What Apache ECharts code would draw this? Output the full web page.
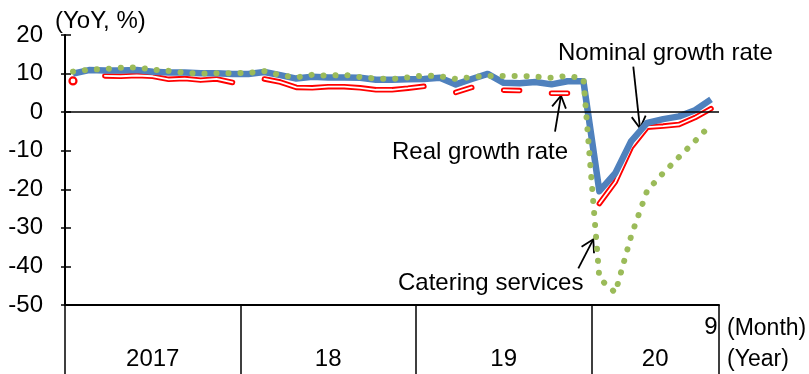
<!DOCTYPE html>
<html><head><meta charset="utf-8">
<script src="https://cdn.jsdelivr.net/npm/echarts@6/dist/echarts.min.js"></script>
<style>html,body{margin:0;padding:0;background:#fff}#c{width:809px;height:374px}</style>
</head><body><div id="c"></div>
<script>
// ---- data ----
const months = [
 '2017/1-2','2017/3','2017/4','2017/5','2017/6','2017/7','2017/8','2017/9','2017/10','2017/11','2017/12',
 '2018/1-2','2018/3','2018/4','2018/5','2018/6','2018/7','2018/8','2018/9','2018/10','2018/11','2018/12',
 '2019/1-2','2019/3','2019/4','2019/5','2019/6','2019/7','2019/8','2019/9','2019/10','2019/11','2019/12',
 '2020/1-2','2020/3','2020/4','2020/5','2020/6','2020/7','2020/8','2020/9'
];
const nominal = [10.0,10.9,10.8,10.8,10.9,10.5,10.3,10.3,10.1,10.1,9.9,
 9.9,10.4,9.6,8.7,9.2,9.0,9.0,8.9,8.4,8.4,8.5,
 8.6,8.9,7.2,8.6,9.9,7.6,7.5,7.8,7.2,8.0,8.0,
 -20.5,-15.8,-7.5,-2.8,-1.8,-1.1,0.5,3.3];
const real = [8.1,null,9.4,9.3,9.5,9.3,8.5,8.7,8.3,8.6,7.7,
 null,8.6,7.8,6.4,6.3,6.6,6.6,6.3,5.8,5.8,6.2,
 6.7,null,5.1,6.4,null,5.7,5.6,null,4.9,4.9,null,
 -23.7,-18.1,-9.1,-3.9,-3.6,-3.2,-1.4,0.9];
const catering = [10.5,11.0,11.2,11.5,11.6,11.0,10.7,10.2,10.0,10.1,10.1,
 10.2,10.6,9.6,9.0,9.7,9.4,9.7,9.1,8.7,8.6,9.0,
 9.5,9.3,8.6,9.1,9.4,9.4,9.4,9.2,8.9,9.4,8.7,
 -43.1,-46.8,-32.0,-20.3,-15.8,-11.6,-7.5,-3.2];
const yearLabels = ['2017','18','19','20'];
const yMin = -50, yMax = 20, yStep = 10;

// ---- derived ----
const FONT = 'Liberation Sans, Arial, sans-serif';
const years = months.map(m => m.split('/')[0]);
const yearStarts = [];
years.forEach((y, i) => { if (i === 0 || years[i - 1] !== y) yearStarts.push(i); });
const yearCenterMap = {};
yearStarts.forEach((s, k) => {
  const e = k + 1 < yearStarts.length ? yearStarts[k + 1] : months.length;
  yearCenterMap[Math.round((s + e) / 2 * 2)] = yearLabels[k];
});
const lastIdx = months.length - 1;
const lastMonthLabel = months[lastIdx].split('/')[1];
const realItems = real.map((v, i) => {
  const isolated = v !== null && (i === 0 || real[i - 1] === null) && (i === lastIdx || real[i + 1] === null);
  return isolated ? {value: v, symbol: 'circle', symbolSize: 7,
    itemStyle: {color: '#fff', borderColor: '#ff0000', borderWidth: 2.2}} : v;
});

const chart = echarts.init(document.getElementById('c'), null, {renderer: 'canvas'});

function txt(x, y, s, size) {
  return {type: 'text', x: x, y: y, silent: true,
    style: {text: s, fill: '#000', font: size + 'px ' + FONT, textVerticalAlign: 'middle', textAlign: 'left'}};
}
function arrow(x0, y0, x1, y1) {
  const dx = x1 - x0, dy = y1 - y0, L = Math.hypot(dx, dy), ux = dx / L, uy = dy / L;
  const hl = 12, hw = 7;
  const bx = x1 - ux * hl, by = y1 - uy * hl;
  return [
    {type: 'line', silent: true, shape: {x1: x0, y1: y0, x2: x1, y2: y1}, style: {stroke: '#000', lineWidth: 1.8}},
    {type: 'polyline', silent: true, shape: {points: [[bx - uy * hw, by + ux * hw], [x1, y1], [bx + uy * hw, by - ux * hw]]},
      style: {stroke: '#000', lineWidth: 1.8, fill: null}}
  ];
}

chart.setOption({
  animation: false,
  backgroundColor: '#fff',
  grid: {left: 65, right: 90, top: 35, bottom: 69, containLabel: false},
  xAxis: [{
    type: 'category', data: months, boundaryGap: true, position: 'bottom',
    axisLine: {onZero: false, lineStyle: {color: '#000', width: 2}},
    axisTick: {show: true, inside: false, length: 69, interval: (i) => yearStarts.indexOf(i) >= 0,
      lineStyle: {color: '#000', width: 1.5}},
    axisLabel: {interval: (i) => i === lastIdx, formatter: (v, i) => (i === lastIdx ? lastMonthLabel : ''),
      color: '#000', fontSize: 24, fontFamily: FONT, margin: 10},
    splitLine: {show: false}
  }, {
    type: 'value', min: 0, max: months.length, interval: 0.5, position: 'bottom',
    axisLine: {show: false}, axisTick: {show: false}, splitLine: {show: false},
    axisLabel: {formatter: (v) => yearCenterMap[Math.round(v * 2)] || '', color: '#000', fontSize: 24,
      fontFamily: FONT, margin: 42, hideOverlap: false, showMinLabel: false, showMaxLabel: false}
  }],
  yAxis: [{
    type: 'value', min: yMin, max: yMax, interval: yStep,
    axisLine: {show: true, lineStyle: {color: '#000', width: 2}},
    axisTick: {show: true, inside: false, length: 4, lineStyle: {color: '#000', width: 1.5}},
    axisLabel: {color: '#000', fontSize: 24, fontFamily: FONT, margin: 22},
    splitLine: {show: false}
  }, {
    type: 'value', min: yMin, max: yMax, interval: yStep, position: 'left',
    axisLine: {show: false}, axisLabel: {show: false}, splitLine: {show: false},
    axisTick: {show: true, inside: true, length: 6, lineStyle: {color: '#000', width: 1.5}}
  }],
  series: [{
    name: 'Real outer', type: 'line', data: realItems, symbol: 'none', showSymbol: true, showAllSymbol: true,
    connectNulls: false, silent: true, z: 2,
    lineStyle: {color: '#ff0000', width: 5.5, cap: 'round', join: 'round'}
  }, {
    name: 'Real inner', type: 'line', data: real, symbol: 'none', connectNulls: false, silent: true, z: 3,
    lineStyle: {color: '#ffffff', width: 1.8, cap: 'round', join: 'round'}
  }, {
    name: 'Nominal', type: 'line', data: nominal, symbol: 'none', silent: true, z: 4,
    lineStyle: {color: '#4F81BD', width: 6.5, join: 'round'},
    markLine: {silent: true, symbol: ['none', 'none'], label: {show: false},
      lineStyle: {color: '#000', width: 1.5, type: 'solid'}, data: [{yAxis: 0}]}
  }, {
    name: 'Catering', type: 'line', data: catering, symbol: 'none', silent: true, z: 5,
    lineStyle: {color: '#9BBB59', width: 6, type: [0.1, 11.9], cap: 'round', join: 'round'}
  }],
  graphic: [
    txt(55, 21, '(YoY, %)', 24),
    txt(558, 53, 'Nominal growth rate', 24),
    txt(392, 152, 'Real growth rate', 24),
    txt(398, 283, 'Catering services', 24),
    txt(727, 329, '(Month)', 23),
    txt(727, 360, '(Year)', 23),
    ...arrow(633.3, 66.7, 640, 128.3),
    ...arrow(555, 131.7, 561, 95.7),
    ...arrow(578.3, 268.3, 593.3, 239.3)
  ]
});
</script></body></html>
